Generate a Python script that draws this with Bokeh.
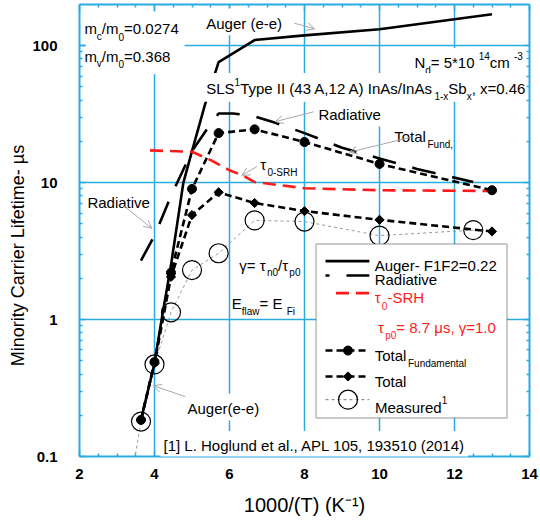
import math
from bokeh.plotting import figure
from bokeh.models import (Range1d, LinearAxis, LogAxis, FixedTicker, CustomJSTickFormatter,
                          Label, BoxAnnotation, Arrow, OpenHead)
from bokeh.embed import file_html
from bokeh.resources import INLINE

# ---------------- data ----------------
inv_t = [3.64, 4.0, 4.44, 5.0, 5.71, 6.67, 8.0, 10.0, 13.0]
total_fund = [0.185, 0.49, 2.2, 9.0, 23.0, 24.5, 19.8, 13.7, 8.8]
total_all = [0.185, 0.48, 2.05, 5.8, 8.5, 7.1, 6.2, 5.35, 4.4]

meas_x = [3.33, 3.64, 4.0, 4.44, 5.0, 5.71, 6.67, 8.0, 10.0, 12.5]
meas_y = [0.057, 0.18, 0.47, 1.13, 2.3, 3.05, 5.3, 5.2, 4.1, 4.5]

auger_x = [3.64, 4.0, 4.19, 4.44, 4.77, 5.0, 5.35, 5.71, 6.67, 8.0, 10.0, 13.0]
auger_y = [0.185, 0.48, 1.0, 2.5, 10.0, 17.0, 37.5, 76.0, 110.0, 119.0, 132.0, 170.0]

rad_x = [3.64, 4.0, 4.44, 5.0, 5.5, 5.71, 6.1, 6.67, 7.2, 8.0, 9.0, 10.0, 11.0, 12.5]
rad_y = [2.7, 4.1, 8.0, 17.0, 27.0, 32.0, 32.0, 30.5, 27.5, 23.0, 18.0, 15.0, 12.6, 10.1]

srh_x = [3.88, 5.0, 5.5, 6.0, 6.35, 6.67, 8.0, 10.0, 13.0]
srh_y = [17.2, 16.8, 14.6, 12.3, 11.3, 10.1, 9.1, 8.8, 8.7]

x_major = [2, 4, 6, 8, 10, 12, 14]
x_grid = [4, 6, 8, 10, 12]
y_major = [0.1, 1, 10, 100]
y_grid = [1, 10, 100]

# ---------------- style ----------------
BLUE = "#29abe2"
RED = "#ff1a1a"
GRAY = "#a8a8a8"
FONT = "Liberation Sans"
FW, FH = 450, 452
X0, X1, Y0, Y1 = 2, 14, 0.1, 200
PX_X = FW / (X1 - X0)
PX_DEC = FH / math.log10(Y1 / Y0)

p = figure(frame_width=FW, frame_height=FH, x_range=Range1d(X0, X1), y_range=Range1d(Y0, Y1),
           y_axis_type="log", output_backend="svg", toolbar_location=None,
           min_border_left=79, min_border_right=11, min_border_top=4, min_border_bottom=71)
p.outline_line_color = None
p.background_fill_color = "white"
p.border_fill_color = "white"

x_minor = [i * 0.5 for i in range(4, 29) if i % 4 != 0]
y_minor = [m * 10 ** e for e in (-1, 0, 1, 2) for m in range(2, 10) if m * 10 ** e < Y1]


def style_axis(ax, labels):
    ax.axis_line_color = BLUE
    ax.axis_line_width = 2
    ax.major_tick_line_color = BLUE
    ax.minor_tick_line_color = BLUE
    ax.major_tick_line_width = 1.5
    ax.minor_tick_line_width = 1.5
    ax.major_tick_in = 6
    ax.major_tick_out = 0
    ax.minor_tick_in = 3
    ax.minor_tick_out = 0
    if labels:
        ax.major_label_text_font = FONT
        ax.major_label_text_font_style = "bold"
        ax.major_label_text_font_size = "15px"
        ax.major_label_text_color = "black"
    else:
        ax.formatter = CustomJSTickFormatter(code="return '';")
        ax.major_label_text_font_size = "1px"
        ax.major_label_text_color = None
        ax.major_label_standoff = 0


xa = p.xaxis[0]
xa.ticker = FixedTicker(ticks=x_major, minor_ticks=x_minor)
style_axis(xa, True)
xa.major_label_standoff = 12
xa.axis_label = "1000/(T) (K\u207b\u00b9)"
xa.axis_label_text_font = FONT
xa.axis_label_text_font_style = "normal"
xa.axis_label_text_font_size = "20px"
xa.axis_label_text_color = "black"
xa.axis_label_standoff = 12

ya = p.yaxis[0]
ya.ticker = FixedTicker(ticks=y_major, minor_ticks=y_minor)
ya.formatter = CustomJSTickFormatter(code="return String(Number(tick.toPrecision(6)));")
style_axis(ya, True)
ya.major_label_standoff = 22
ya.axis_label = "Minority Carrier Lifetime- \u00b5s" + "\u00a0" * 10
ya.axis_label_text_font = FONT
ya.axis_label_text_font_style = "normal"
ya.axis_label_text_font_size = "18px"
ya.axis_label_text_color = "black"
ya.axis_label_standoff = 1

top_ax = LinearAxis(ticker=FixedTicker(ticks=x_major, minor_ticks=x_minor))
style_axis(top_ax, False)
p.add_layout(top_ax, "above")
right_ax = LogAxis(ticker=FixedTicker(ticks=y_major, minor_ticks=y_minor))
style_axis(right_ax, False)
p.add_layout(right_ax, "right")

p.xgrid.ticker = FixedTicker(ticks=x_grid)
p.ygrid.ticker = FixedTicker(ticks=y_grid)
for g in (p.xgrid[0], p.ygrid[0]):
    g.grid_line_color = BLUE
    g.grid_line_width = 1.5
    g.minor_grid_line_color = None

# ---------------- curves ----------------
p.line(meas_x, meas_y, line_color="#999999", line_width=1, line_dash="3 3")
p.scatter(meas_x, meas_y, marker="circle", size=19, fill_color=None, line_color="black", line_width=1.2)
p.line(auger_x, auger_y, line_color="black", line_width=2.6)
p.line(rad_x, rad_y, line_color="black", line_width=2.6, line_dash="24 17")
p.line(srh_x, srh_y, line_color=RED, line_width=2.6, line_dash="13 7")
p.line(inv_t, total_fund, line_color="black", line_width=2.6, line_dash="7 4")
p.scatter(inv_t, total_fund, marker="circle", size=9, fill_color="black", line_color="black")
p.line(inv_t, total_all, line_color="black", line_width=2.6, line_dash="7 4")
p.scatter(inv_t, total_all, marker="square", angle=math.pi / 4, size=6.5, fill_color="black", line_color="black")

# ---------------- text helpers ----------------
W = {' ': 278, '!': 278, '(': 333, ')': 333, '*': 389, '+': 584, ',': 278, '-': 333, '.': 278,
     '/': 278, ':': 278, '=': 584, '[': 278, ']': 278,
     'A': 667, 'B': 667, 'C': 722, 'D': 722, 'E': 667, 'F': 611, 'G': 778, 'H': 722, 'I': 278,
     'J': 500, 'K': 667, 'L': 556, 'M': 833, 'N': 722, 'O': 778, 'P': 667, 'Q': 778, 'R': 722,
     'S': 667, 'T': 611, 'U': 722, 'V': 667, 'W': 944, 'X': 667, 'Y': 667, 'Z': 611,
     'a': 556, 'b': 556, 'c': 500, 'd': 556, 'e': 556, 'f': 278, 'g': 556, 'h': 556, 'i': 222,
     'j': 222, 'k': 500, 'l': 222, 'm': 833, 'n': 556, 'o': 556, 'p': 556, 'q': 556, 'r': 333,
     's': 500, 't': 278, 'u': 556, 'v': 500, 'w': 722, 'x': 500, 'y': 500, 'z': 500,
     '\u03c4': 480, '\u03b3': 500, '\u03bc': 576, '\u00b5': 556}


def text_width(s, fs):
    return sum(W.get(c, 556) for c in s) * fs / 1000.0


def add_rich(x, y, parts, size=15, color="black", bg=False, pad=3):
    segs = []
    dx = 0.0
    for text, kind in parts:
        if kind == "n":
            fs, dy = size, 0.0
        elif kind == "sub":
            fs, dy = round(size * 0.68), -size * 0.52
        else:
            fs, dy = round(size * 0.68), size * 0.47
        segs.append((text, fs, dx, dy))
        dx += text_width(text, fs)
    if bg:
        left = x - pad / PX_X
        right = min(x + (dx + pad) / PX_X, 13.85)
        top = y * 10 ** ((size * 0.78 + pad) / PX_DEC)
        bottom = y * 10 ** (-(size * 0.6 + pad) / PX_DEC)
        p.add_layout(BoxAnnotation(left=left, right=right, bottom=bottom, top=top,
                                   fill_color="white", fill_alpha=1.0, line_alpha=0.0))
    for text, fs, ox, dy in segs:
        p.add_layout(Label(x=x, y=y, x_offset=ox, y_offset=dy, text=text,
                           text_font=FONT, text_font_size=f"{fs}px", text_color=color,
                           text_baseline="alphabetic", text_align="left"))


def add_arrow(xs, ys, xe, ye):
    p.add_layout(Arrow(end=OpenHead(size=8, line_color=GRAY, line_width=1),
                       x_start=xs, y_start=ys, x_end=xe, y_end=ye,
                       line_color=GRAY, line_width=1))


# ---------------- annotations ----------------
p.add_layout(BoxAnnotation(left=2.17, right=4.8, bottom=62, top=178,
                           fill_color="white", fill_alpha=1.0, line_alpha=0.0))
add_rich(2.13, 133, [("m", "n"), ("c", "sub"), ("/m", "n"), ("0", "sub"), (" =0.0274", "n")])
add_rich(2.13, 84, [("m", "n"), ("v", "sub"), ("/m", "n"), ("0", "sub"), (" =0.368", "n")])
add_rich(5.38, 146, [("Auger (e-e)", "n")], bg=True)
add_rich(10.93, 75.3, [("N", "n"), ("d", "sub"), (" = 5*10", "n"), ("14", "sup"),
                       (" cm", "n"), ("-3", "sup")], bg=True)
add_rich(5.38, 48.5, [("SLS", "n"), ("1", "sup"), ("Type II (43 A,12 A) InAs/InAs", "n"),
                      ("1-x", "sub"), ("Sb", "n"), ("x", "sub"), (", x=0.46", "n")], bg=True, pad=4)
add_rich(8.37, 31.4, [("Radiative", "n")], bg=True)
add_rich(10.39, 21.8, [("Total", "n"), ("Fund,", "sub")])
add_rich(6.82, 13.5, [("\u03c4", "n"), ("0-SRH", "sub")])
add_rich(2.21, 7.2, [("Radiative", "n")])
add_rich(6.26, 2.5, [("\u03b3= \u03c4", "n"), ("n0", "sub"), ("/\u03c4", "n"), ("p0", "sub")])
add_rich(6.06, 1.31, [("E", "n"), ("flaw", "sub"), (" = E", "n"), ("Fi", "sub")])
add_rich(4.88, 0.224, [("Auger(e-e)", "n")], bg=True)
add_rich(4.24, 0.12, [("[1] L. Hoglund et al., APL 105, 193510 (2014)", "n")], bg=True)

add_arrow(7.73, 146, 8.27, 133)
add_arrow(8.24, 32.9, 7.22, 27.9)
add_arrow(10.85, 21.5, 9.2, 16.7)
add_arrow(6.73, 13.1, 6.33, 11.3)
add_arrow(3.17, 6.8, 3.93, 4.64)
add_arrow(4.82, 0.274, 3.97, 0.329)

# ---------------- legend (drawn by hand) ----------------
p.add_layout(BoxAnnotation(left=8.31, right=13.4, bottom=0.191, top=3.57,
                           fill_color="white", fill_alpha=1.0, line_color="#4d4d4d", line_width=2))
LX0, LX1, LXM = 8.56, 9.73, 9.16
p.line([LX0, LX1], [2.67, 2.67], line_color="black", line_width=2.6, level="overlay")
p.line([LX0, LX1], [2.1, 2.1], line_color="black", line_width=2.6, line_dash="24 17",
       line_dash_offset=20, level="overlay")
p.line([8.84, 9.73], [1.56, 1.56], line_color=RED, line_width=2.6, line_dash="13 7", level="overlay")
p.line([LX0, LX1], [0.594, 0.594], line_color="black", line_width=2.6, line_dash="7 4", level="overlay")
p.scatter([LXM], [0.594], marker="circle", size=9, fill_color="black", line_color="black", level="overlay")
p.line([LX0, LX1], [0.384, 0.384], line_color="black", line_width=2.6, line_dash="7 4", level="overlay")
p.scatter([LXM], [0.384], marker="square", angle=math.pi / 4, size=6.5, fill_color="black",
          line_color="black", level="overlay")
p.line([LX0, LX1], [0.26, 0.26], line_color="#777777", line_width=1, line_dash="3 3", level="overlay")
p.scatter([LXM], [0.26], marker="circle", size=19, fill_color=None, line_color="black",
          line_width=1.2, level="overlay")

add_rich(9.87, 2.48, [("Auger- F1F2=0.22", "n")])
add_rich(9.87, 1.95, [("Radiative", "n")])
add_rich(9.87, 1.44, [("\u03c4", "n"), ("0", "sub"), ("-SRH", "n")], color=RED)
add_rich(9.96, 0.87, [("\u03c4", "n"), ("p0", "sub"), (" = 8.7 \u03bcs, \u03b3=1.0", "n")], color=RED)
add_rich(9.87, 0.546, [("Total", "n"), ("Fundamental", "sub")])
add_rich(9.87, 0.355, [("Total", "n")])
add_rich(9.88, 0.229, [("Measured", "n"), ("1", "sup")])

open("out.html", "w").write(file_html(p, INLINE))
